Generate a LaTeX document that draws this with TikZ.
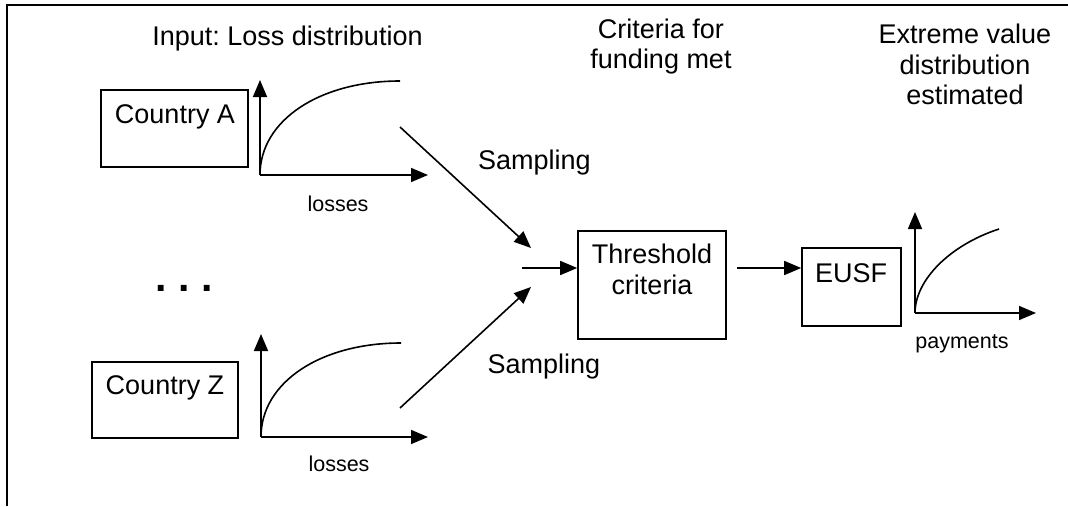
\documentclass[tikz,border=0pt]{standalone}
\usepackage{fontspec}
\setmainfont{Liberation Sans}
\usetikzlibrary{arrows.meta}
\frenchspacing
\begin{document}
\begin{tikzpicture}[x=1pt,y=-1pt,line width=1.6pt,
  box/.style={draw,line width=1.6pt,inner sep=0pt},
  big/.style={font=\fontsize{27}{31}\selectfont,inner sep=0pt,anchor=base},
  small/.style={font=\fontsize{21.5}{25}\selectfont,inner sep=0pt,anchor=base},
  arr/.style={-{Triangle[length=17pt,width=14pt]},line width=1.6pt},
  dist/.style={line width=1.6pt}]
\useasboundingbox (0,0) rectangle (1068,506);
% frame
\coordinate (fBL) at (7,506);
\coordinate (fTL) at (7,5);
\coordinate (fTR) at (1068,5);
\draw[line width=2pt] (fBL) -- (fTL) -- (fTR);
% top labels
\node[big] (tInput) at (287.5,45) {Input: Loss distribution};
\node[big] (tCrit1) at (661,38) {Criteria for};
\node[big] (tCrit2) at (661,68) {funding met};
\node[big] (tExt1) at (965,43) {Extreme value};
\node[big] (tExt2) at (965,74) {distribution};
\node[big] (tExt3) at (965,104) {estimated};
% Country A
\node[box,minimum width=147pt,minimum height=77pt] (boxA) at (174.5,128.5) {};
\node[big] (txtA) at (175,123) {Country A};
\coordinate (oA) at (260,175);
\coordinate (yA) at (260,80);
\coordinate (xA) at (428,175);
\coordinate (cA) at (400,81);
\draw[arr] (oA) -- (yA);
\draw[arr] (oA) -- (xA);
\draw[dist] (oA) .. controls (260,120) and (320,81) .. (cA);
\node[small] (lA) at (338,211) {losses};
% dots
\node[font=\fontsize{41}{45}\selectfont\bfseries,inner sep=0pt,anchor=base] (dots) at (184,291) {. . .};
% Country Z
\node[box,minimum width=146pt,minimum height=76pt] (boxZ) at (165,400) {};
\node[big] (txtZ) at (165,394) {Country Z};
\coordinate (oZ) at (261,437);
\coordinate (yZ) at (261,334);
\coordinate (xZ) at (428,437);
\coordinate (cZ) at (401,343);
\draw[arr] (oZ) -- (yZ);
\draw[arr] (oZ) -- (xZ);
\draw[dist] (oZ) .. controls (261,382) and (321,343) .. (cZ);
\node[small] (lZ) at (339,471) {losses};
% sampling arrows
\coordinate (sA1) at (400,127);
\coordinate (sA2) at (531,248);
\coordinate (sZ1) at (400,408);
\coordinate (sZ2) at (531,287);
\draw[arr] (sA1) -- (sA2);
\draw[arr] (sZ1) -- (sZ2);
\node[big] (samp1) at (534.5,169) {Sampling};
\node[big] (samp2) at (544,373) {Sampling};
% threshold
\node[box,minimum width=148pt,minimum height=108pt] (thr) at (652,285) {};
\node[big] (thr1) at (652,263) {Threshold};
\node[big] (thr2) at (652,294) {criteria};
\coordinate (m1) at (522,268);
\draw[arr] (m1) -- (thr.west |- m1);
% EUSF
\node[box,minimum width=99pt,minimum height=78pt] (eusf) at (851.5,287) {};
\node[big] (eusfT) at (851,282) {EUSF};
\draw[arr] ([xshift=10pt]thr.east |- m1) -- (eusf.west |- m1);
% payments
\coordinate (oP) at (915,313);
\coordinate (yP) at (915,212);
\coordinate (xP) at (1036,313);
\coordinate (cP) at (999,229);
\draw[arr] (oP) -- (yP);
\draw[arr] (oP) -- (xP);
\draw[dist] (oP) .. controls (915,280) and (950,245) .. (cP);
\node[small] (lP) at (962,348) {payments};
\end{tikzpicture}
\end{document}
